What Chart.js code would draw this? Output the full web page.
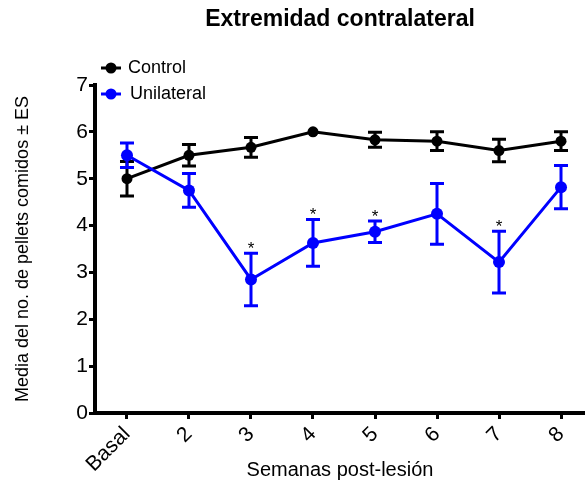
<!DOCTYPE html>
<html>
<head>
<meta charset="utf-8">
<script src="https://cdn.jsdelivr.net/npm/chart.js@4"></script>
<style>
  html, body { margin: 0; padding: 0; background: #fff; }
  canvas { display: block; }
</style>
</head>
<body>
<canvas id="chart" width="585" height="485"></canvas>
<script>
// Data
const weeks = ['Basal', '2', '3', '4', '5', '6', '7', '8'];
const controlMean = [5.0, 5.5, 5.67, 6.0, 5.83, 5.8, 5.6, 5.8];
const controlSE = [0.37, 0.23, 0.21, 0, 0.16, 0.2, 0.24, 0.2];
const uniMean = [5.5, 4.75, 2.85, 3.63, 3.87, 4.25, 3.22, 4.82];
const uniSE = [0.26, 0.36, 0.56, 0.5, 0.23, 0.65, 0.66, 0.46];
const uniSig = ['', '', '*', '*', '*', '', '*', ''];
const yTicks = [0, 1, 2, 3, 4, 5, 6, 7];

const FONT = 'Arial, "Liberation Sans", sans-serif';

function toPoints(means) {
    return means.map((v, i) => ({ x: i, y: v }));
}

// error bars, drawn under each dataset's own points
const errorBars = {
    id: 'errorBars',
    beforeDatasetDraw(chart, args) {
        const ds = chart.data.datasets[args.index];
        if (!ds.se) return;
        const ctx = chart.ctx;
        const y = chart.scales.y;
        ctx.save();
        ctx.strokeStyle = ds.borderColor;
        ctx.lineWidth = 3;
        args.meta.data.forEach((pt, i) => {
            const e = ds.se[i];
            if (!e) return;
            const top = y.getPixelForValue(ds.data[i].y + e);
            const bot = y.getPixelForValue(ds.data[i].y - e);
            ctx.beginPath();
            ctx.moveTo(pt.x, top);
            ctx.lineTo(pt.x, bot);
            ctx.moveTo(pt.x - 7, top);
            ctx.lineTo(pt.x + 7, top);
            ctx.moveTo(pt.x - 7, bot);
            ctx.lineTo(pt.x + 7, bot);
            ctx.stroke();
        });
        ctx.restore();
    },
    afterDatasetsDraw(chart) {
        // significance marks over the unilateral bars
        const ctx = chart.ctx;
        const x = chart.scales.x, y = chart.scales.y;
        ctx.save();
        ctx.fillStyle = '#000';
        ctx.font = '17px ' + FONT;
        ctx.textAlign = 'center';
        ctx.textBaseline = 'alphabetic';
        uniSig.forEach((s, i) => {
            if (!s) return;
            ctx.fillText(s, x.getPixelForValue(i), y.getPixelForValue(uniMean[i] + uniSE[i]) + 1);
        });
        ctx.restore();
    },
    afterDraw(chart) {
        // legend in the upper left corner
        const ctx = chart.ctx;
        const rows = [
            { ds: chart.data.datasets[0], y: 68, tx: 128 },
            { ds: chart.data.datasets[1], y: 94, tx: 130 }
        ];
        ctx.save();
        rows.forEach(r => {
            ctx.strokeStyle = r.ds.borderColor;
            ctx.fillStyle = r.ds.borderColor;
            ctx.lineWidth = 3;
            ctx.beginPath();
            ctx.moveTo(101, r.y);
            ctx.lineTo(121, r.y);
            ctx.stroke();
            ctx.beginPath();
            ctx.arc(111, r.y, 5.5, 0, Math.PI * 2);
            ctx.fill();
            ctx.fillStyle = '#000';
            ctx.font = '18px ' + FONT;
            ctx.textAlign = 'left';
            ctx.textBaseline = 'middle';
            ctx.fillText(r.ds.label, r.tx, r.y);
        });
        ctx.restore();
    }
};

const ctx = document.getElementById('chart').getContext('2d');
const chart = new Chart(ctx, {
    type: 'line',
    data: {
        datasets: [{
            label: 'Control',
            data: toPoints(controlMean),
            se: controlSE,
            borderColor: '#000000',
            backgroundColor: '#000000',
            borderWidth: 3,
            pointRadius: 5.5,
            pointBorderWidth: 0,
            order: 1
        }, {
            label: 'Unilateral',
            data: toPoints(uniMean),
            se: uniSE,
            borderColor: '#0000ff',
            backgroundColor: '#0000ff',
            borderWidth: 3,
            pointRadius: 6,
            pointBorderWidth: 0,
            order: 0
        }]
    },
    options: {
        responsive: false,
        animation: false,
        devicePixelRatio: 1,
        layout: { autoPadding: false, padding: { left: 0, right: 0, top: 0, bottom: 0 } },
        plugins: {
            legend: { display: false },
            tooltip: { enabled: false },
            title: {
                display: true,
                fullSize: false,
                text: 'Extremidad contralateral',
                color: '#000',
                font: { family: FONT, size: 23, weight: 'bold' },
                padding: { top: 6, bottom: 51.4 }
            }
        },
        scales: {
            x: {
                type: 'linear',
                min: -0.516,
                max: 7.387,
                afterBuildTicks: s => { s.ticks = weeks.map((w, i) => ({ value: i })); },
                afterFit: s => { s.height = 72; s.paddingLeft = 0; s.paddingRight = 0; },
                ticks: {
                    callback: v => weeks[v],
                    autoSkip: false,
                    maxRotation: 45,
                    minRotation: 45,
                    padding: 3,
                    color: '#000',
                    font: { family: FONT, size: 21 }
                },
                grid: { drawOnChartArea: false, drawTicks: true, tickLength: 6, color: '#000', lineWidth: 3 },
                border: { color: '#000', width: 4 },
                title: {
                    display: true,
                    text: 'Semanas post-lesión',
                    color: '#000',
                    font: { family: FONT, size: 20 },
                    padding: { top: 0, bottom: 3 }
                }
            },
            y: {
                min: 0,
                max: 7,
                afterBuildTicks: s => { s.ticks = yTicks.map(v => ({ value: v })); },
                afterFit: s => { s.width = 95; },
                ticks: {
                    padding: 1,
                    color: '#000',
                    font: { family: FONT, size: 21 }
                },
                grid: { drawOnChartArea: false, drawTicks: true, tickLength: 6, color: '#000', lineWidth: 3 },
                border: { color: '#000', width: 4 },
                title: {
                    display: true,
                    text: 'Media del no. de pellets comidos ± ES',
                    color: '#000',
                    font: { family: FONT, size: 18 },
                    padding: { top: 12, bottom: 0 }
                }
            }
        }
    },
    plugins: [errorBars]
});
</script>
</body>
</html>
